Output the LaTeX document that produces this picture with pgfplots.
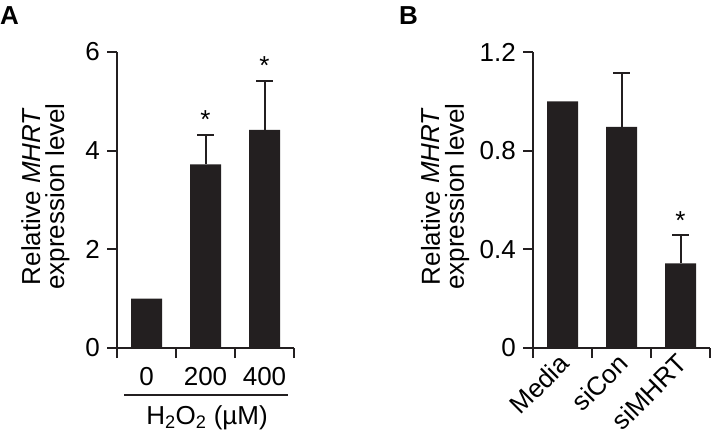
\documentclass[border=0pt]{standalone}
\usepackage{fontspec}
\setmainfont{Liberation Sans}
\usepackage{pgfplots}
\pgfplotsset{compat=1.18}
\definecolor{barc}{RGB}{35,31,32}
\tikzset{sig/.style={anchor=base, yshift=6pt, font=\fontsize{26}{26}\selectfont, inner sep=0pt}}
\pgfplotsset{
  myax/.style={
    scale only axis, width=177pt, height=296pt,
    axis x line*=bottom, axis y line*=left,
    axis line style={line width=2pt, draw=barc},
    every tick/.style={line width=2pt, draw=barc},
    tick align=outside, major tick length=10pt,
    xmin=-0.5, xmax=2.5, ymin=0,
    enlargelimits=false, clip=false,
    xtick={-0.5,0.5,1.5,2.5}, xticklabels={},
    extra x ticks={0,1,2},
    extra x tick style={major tick length=0pt},
    tick label style={font=\fontsize{26}{26}\selectfont},
    yticklabel style={inner sep=0pt, anchor=east, xshift=-7pt},
    /pgf/number format/assume math mode=true,
    ylabel style={font=\fontsize{26}{24}\selectfont, align=center, anchor=center},
  },
  errs/.style={draw=none, forget plot,
    error bars/.cd, y dir=plus, y explicit,
    error bar style={draw=barc, line width=2pt},
    error mark options={draw=barc, rotate=90, mark size=8.5pt, line width=2pt}},
  bars/.style={ybar, bar width=31pt, fill=barc, draw=none},
}
\begin{document}
\begin{tikzpicture}
\useasboundingbox (0,0) rectangle (712pt,442pt);
\node[anchor=base west, inner sep=0pt, font=\fontsize{26}{26}\selectfont\bfseries] at (0pt,417pt) {A};
\node[anchor=base west, inner sep=0pt, font=\fontsize{26}{26}\selectfont\bfseries] at (399pt,417pt) {B};
\begin{axis}[myax, at={(117pt,94pt)}, anchor=south west,
  ymax=6, ytick={0,2,4,6},
  extra x tick labels={0,200,400},
  extra x tick style={xticklabel style={inner sep=0pt, anchor=north, yshift=-19pt}},
  ylabel={Relative \textit{MHRT}\\expression level},
  ylabel style={at={(axis description cs:-0.405,0.512)}},
]
\addplot[bars] coordinates {(0,1.00) (1,3.72) (2,4.42)};
\addplot[errs] coordinates {(1,3.72) +- (0,0.60) (2,4.42) +- (0,1.00)};
\node[sig] at (axis cs:1,4.32) {*};
\node[sig] at (axis cs:2,5.42) {*};
\end{axis}
\draw[line width=2pt, barc] (124pt,47pt) -- (288pt,47pt);
\node[anchor=base, inner sep=0pt, font=\fontsize{26}{26}\selectfont] at (207pt,18pt) {H\textsubscript{2}O\textsubscript{2} (µM)};
\begin{axis}[myax, at={(533pt,94pt)}, anchor=south west,
  ymax=1.2, ytick={0,0.4,0.8,1.2},
  yticklabel style={/pgf/number format/fixed},
  extra x tick labels={Media,siCon,siMHRT},
  extra x tick style={xticklabel style={inner sep=0pt, xshift=2pt, yshift=-11pt, rotate=45, anchor=east}},
  ylabel={Relative \textit{MHRT}\\expression level},
  ylabel style={at={(axis description cs:-0.496,0.512)}},
]
\addplot[bars] coordinates {(0,1.00) (1,0.896) (2,0.343)};
\addplot[errs] coordinates {(1,0.896) +- (0,0.22) (2,0.343) +- (0,0.115)};
\node[sig] at (axis cs:2,0.458) {*};
\end{axis}
\end{tikzpicture}
\end{document}
